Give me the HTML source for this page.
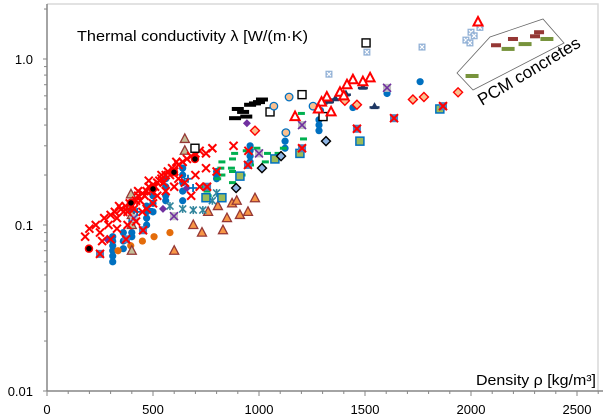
<!DOCTYPE html>
<html><head><meta charset="utf-8"><style>
html,body{margin:0;padding:0;background:#fff}
svg{display:block}
text{font-family:"Liberation Sans",sans-serif}
</style></head><body>
<svg id="chart" width="607" height="420" viewBox="0 0 607 420">
<rect x="0" y="0" width="607" height="420" fill="#fff"/>
<g id="grid"></g>
<g id="marks"></g>
<text x="77" y="41" font-size="14.5" textLength="231" lengthAdjust="spacingAndGlyphs" fill="#000">Thermal conductivity λ [W/(m·K)</text>
<text x="476" y="385" font-size="14.5" textLength="120" lengthAdjust="spacingAndGlyphs" fill="#000">Density ρ [kg/m³]</text>
<polygon points="457,73 490,37 543,19 564,43 473,90" fill="none" stroke="#666" stroke-width="0.8"/>
<text x="0" y="0" font-size="17" transform="translate(482,106) rotate(-31)" fill="#000">PCM concretes</text>
</svg>
<script>
const xTicks=[0,500,1000,1500,2000,2500];
const yTicks=[0.01,0.1,1.0];
const yTickLabels=["0.01","0.1","1.0"];
const redCross=[[180,0.085],[200,0.095],[230,0.1],[250,0.09],[270,0.11],[290,0.1],[300,0.115],[320,0.12],[330,0.11],[350,0.125],[360,0.12],[370,0.13],[380,0.12],[390,0.135],[400,0.13],[410,0.125],[420,0.14],[430,0.15],[440,0.14],[450,0.155],[460,0.15],[470,0.16],[480,0.17],[490,0.16],[500,0.175],[510,0.17],[520,0.18],[530,0.185],[540,0.19],[550,0.18],[560,0.2],[570,0.21],[580,0.2],[590,0.22],[600,0.21],[620,0.23],[640,0.24],[660,0.25],[680,0.26],[700,0.27],[720,0.28],[750,0.27],[780,0.29],[330,0.095],[420,0.105],[450,0.12],[520,0.15],[560,0.16],[600,0.17],[650,0.18],[700,0.2],[750,0.22],[800,0.21],[260,0.08],[300,0.082],[720,0.17],[680,0.15],[500,0.135],[470,0.125],[620,0.19],[880,0.3],[950,0.28],[340,0.13],[430,0.16],[480,0.185],[540,0.2],[610,0.24],[380,0.1]];
const blueCircle=[[310,0.06],[310,0.065],[310,0.07],[310,0.075],[310,0.08],[310,0.085],[360,0.072],[360,0.08],[360,0.09],[400,0.085],[400,0.09],[400,0.1],[400,0.105],[400,0.11],[400,0.12],[470,0.1],[470,0.11],[470,0.12],[470,0.13],[500,0.12],[500,0.135],[500,0.15],[560,0.14],[560,0.15],[560,0.17],[560,0.19],[640,0.14],[640,0.16],[640,0.18],[640,0.2],[640,0.22],[800,0.19],[800,0.2],[800,0.21],[958,0.24],[958,0.26],[958,0.28],[958,0.3],[1123,0.29],[1123,0.32],[1123,0.36],[1283,0.37],[1283,0.4],[1283,0.43],[1443,0.51],[1604,0.62],[1760,0.73],[1290,0.49]];
const orangeCircle=[[335,0.07],[395,0.075],[450,0.08],[505,0.085],[580,0.09]];
const triangle=[[731,0.09],[830,0.093],[849,0.11],[910,0.115],[948,0.12],[873,0.135],[895,0.14],[981,0.145],[806,0.13],[600,0.07],[690,0.1],[760,0.12]];
const tanTriangle=[[396,0.153],[400,0.07],[400,0.1],[400,0.115],[395,0.13],[650,0.33],[650,0.28]];
const redTriangle=[[2033,1.67],[1524,0.77],[1443,0.75],[1490,0.73],[1415,0.7],[1382,0.63],[1320,0.59],[1295,0.55],[1280,0.5],[1340,0.48],[1400,0.6],[1170,0.45]];
const blackDash=[[887,0.44],[958,0.53],[1014,0.57],[925,0.48],[900,0.5],[981,0.54],[940,0.45],[1000,0.55]];
const greenDash=[[825,0.24],[820,0.22],[825,0.2],[805,0.19],[875,0.25],[870,0.22],[875,0.21],[920,0.2],[875,0.18],[885,0.27],[940,0.28],[990,0.29],[1000,0.28],[1040,0.27],[1090,0.27],[1115,0.29],[1210,0.33],[960,0.23],[1030,0.24],[755,0.16],[760,0.15],[745,0.17],[1200,0.47]];
const blackDot=[[198,0.072],[396,0.136],[500,0.165],[599,0.208],[698,0.25]];
const greenSquare=[[750,0.146],[825,0.146],[910,0.197],[1075,0.25],[1193,0.27],[1476,0.32],[1853,0.5]];
const tealStar=[[690,0.123],[735,0.123],[800,0.156],[780,0.14],[580,0.13],[640,0.125]];
const diamondBlue=[[892,0.167],[1014,0.22],[1104,0.26],[1316,0.32]];
const whiteSquare=[[698,0.29],[1052,0.48],[1203,0.61],[1302,0.45],[1505,1.25]];
const paleCross=[[1509,1.1],[1769,1.18],[1330,0.81],[1976,1.3],[2000,1.45],[2015,1.38],[2042,1.55],[1995,1.25]];
const peachCircle=[[1070,0.52],[1142,0.59],[1127,0.36],[1255,0.52]];
const purpleCross=[[1203,0.4],[1000,0.27],[1604,0.67],[599,0.113],[410,0.11]];
const redXSquare=[[948,0.23],[1203,0.29],[1462,0.38],[1637,0.44],[755,0.17],[1868,0.52],[373,0.082],[453,0.093],[250,0.067]];
const peachDiamond=[[1939,0.63],[1778,0.59],[1726,0.57],[1405,0.56],[981,0.37],[1462,0.53]];
const navyStar=[[1330,0.56],[1360,0.58],[1410,0.62],[1490,0.68],[1300,0.55],[1545,0.52]];
const purpleDiamond=[[283,0.082],[547,0.125],[660,0.167],[943,0.41]];
const bluePlus=[[689,0.167],[425,0.12],[665,0.19],[480,0.125]];
const pcmGreen=[[2005,0.79],[2175,1.15],[2255,1.23],[2358,1.32]];
const pcmRed=[[2118,1.21],[2198,1.32],[2302,1.37],[2321,1.45]];

const NS="http://www.w3.org/2000/svg";
const X0=47,XS=0.212,Y0=225,DEC=166;
function xs(d){return X0+XS*d;}
function ys(l){return Y0-DEC*Math.log10(l/0.1);}
const grid=document.getElementById('grid'),marks=document.getElementById('marks');
function el(tag,attrs,parent){const e=document.createElementNS(NS,tag);for(const k in attrs)e.setAttribute(k,attrs[k]);(parent||marks).appendChild(e);return e;}

let f=el('path',{d:'M47,4 H598 V391',fill:'none',stroke:'#d9d9d9','stroke-width':1.5},grid);


let ax=el('line',{x1:47,y1:4,x2:47,y2:391,stroke:'#868686','stroke-width':1.5},grid);


let bx=el('line',{x1:47,y1:391,x2:603,y2:391,stroke:'#868686','stroke-width':1.5},grid);


for(let d=0;d<=2600;d+=100){
  const t=el('line',{x1:xs(d),x2:xs(d),y1:391,y2:d%500===0?396:394,stroke:'#868686','stroke-width':1},grid);
  
  
}
xTicks.forEach(v=>{
  const t=el('text',{x:xs(v),y:414,'font-size':13,'text-anchor':'middle'},grid);t.textContent=v;
  
  
});
[0.01,0.1,1].forEach(b=>{for(let m=1;m<10;m++){const v=b*m;const y=ys(v);if(y<4)continue;
  const t=el('line',{x1:m===1?43:44,x2:47,y1:y,y2:y,stroke:'#868686','stroke-width':1},grid);
  
  }});
yTicks.forEach((v,i)=>{
  const t=el('text',{x:33,y:ys(v)+5,'font-size':13,'text-anchor':'end'},grid);t.textContent=yTickLabels[i];
  
  
});

function cross(g,x,y,r,c,w){el('path',{d:`M${x-r},${y-r}L${x+r},${y+r}M${x-r},${y+r}L${x+r},${y-r}`,stroke:c,'stroke-width':w,fill:'none'},g);}
const drawers={
 redCross:(g,x,y)=>cross(g,x,y,4,'#FF0000',2),
 blueCircle:(g,x,y)=>el('circle',{cx:x,cy:y,r:3.6,fill:'#0070C0'},g),
 orangeCircle:(g,x,y)=>el('circle',{cx:x,cy:y,r:3.6,fill:'#E46C0A'},g),
 triangle:(g,x,y)=>el('path',{d:`M${x},${y-5}L${x+4.5},${y+3.5}L${x-4.5},${y+3.5}Z`,fill:'#F79646',stroke:'#953735','stroke-width':1.3},g),
 tanTriangle:(g,x,y)=>el('path',{d:`M${x},${y-5}L${x+4.5},${y+3.5}L${x-4.5},${y+3.5}Z`,fill:'#C4BD97',stroke:'#953735','stroke-width':1.3},g),
 redTriangle:(g,x,y)=>el('path',{d:`M${x},${y-5}L${x+4.5},${y+3.5}L${x-4.5},${y+3.5}Z`,fill:'#fff',stroke:'#FF0000','stroke-width':2},g),
 blackDash:(g,x,y)=>el('rect',{x:x-6,y:y-2,width:12,height:4,fill:'#000'},g),
 greenDash:(g,x,y)=>el('rect',{x:x-3.5,y:y-1.5,width:7,height:3,fill:'#00B050'},g),
 blackDot:(g,x,y)=>el('circle',{cx:x,cy:y,r:3.5,fill:'#000',stroke:'#FF0000','stroke-width':1.5},g),
 greenSquare:(g,x,y)=>el('rect',{x:x-4,y:y-4,width:8,height:8,fill:'#9BBB59',stroke:'#0070C0','stroke-width':1.5},g),
 tealStar:(g,x,y)=>{cross(g,x,y,3.5,'#31859C',1.6);el('line',{x1:x,y1:y-4,x2:x,y2:y+4,stroke:'#31859C','stroke-width':1.6},g);},
 diamondBlue:(g,x,y)=>el('path',{d:`M${x},${y-4.5}L${x+4.5},${y}L${x},${y+4.5}L${x-4.5},${y}Z`,fill:'#8EB4E3',stroke:'#000','stroke-width':1.4},g),
 whiteSquare:(g,x,y)=>el('rect',{x:x-4,y:y-4,width:8,height:8,fill:'#fff',stroke:'#000','stroke-width':1.4},g),
 paleCross:(g,x,y)=>{el('rect',{x:x-3.5,y:y-3.5,width:7,height:7,fill:'#95B3D7'},g);cross(g,x,y,2,'#fff',1.2);},
 peachCircle:(g,x,y)=>el('circle',{cx:x,cy:y,r:3.8,fill:'#FAC090',stroke:'#0070C0','stroke-width':1.3},g),
 purpleCross:(g,x,y)=>{el('rect',{x:x-4,y:y-4,width:8,height:8,fill:'#BFBFBF'},g);cross(g,x,y,4,'#7030A0',1.6);},
 redXSquare:(g,x,y)=>{el('rect',{x:x-4,y:y-4,width:8,height:8,fill:'#4F81BD'},g);cross(g,x,y,4,'#FF0000',2);},
 peachDiamond:(g,x,y)=>el('path',{d:`M${x},${y-4.5}L${x+4.5},${y}L${x},${y+4.5}L${x-4.5},${y}Z`,fill:'#FAC090',stroke:'#FF0000','stroke-width':1.4},g),
 navyStar:(g,x,y)=>{el('path',{d:`M${x-4},${y+3}L${x},${y-4}L${x+4},${y+3}Z`,fill:'#1F3864'},g);el('rect',{x:x-5,y:y,width:10,height:2.5,fill:'#1F3864'},g);},
 purpleDiamond:(g,x,y)=>el('path',{d:`M${x},${y-4}L${x+4},${y}L${x},${y+4}L${x-4},${y}Z`,fill:'#7030A0'},g),
 bluePlus:(g,x,y)=>el('path',{d:`M${x-4},${y}H${x+4}M${x},${y-4}V${y+4}`,stroke:'#0070C0','stroke-width':1.8},g),
 pcmGreen:(g,x,y)=>el('rect',{x:x-6.5,y:y-2,width:13,height:4,fill:'#77933C'},g),
 pcmRed:(g,x,y)=>el('rect',{x:x-5,y:y-2,width:10,height:4,fill:'#953735'},g)
};
const seriesList=[['blue-circle-series',blueCircle,'blueCircle'],['orange-circle-series',orangeCircle,'orangeCircle'],['triangle-series',triangle,'triangle'],['tan-triangle-series',tanTriangle,'tanTriangle'],['green-dash-series',greenDash,'greenDash'],['black-dash-series',blackDash,'blackDash'],['teal-star-series',tealStar,'tealStar'],['green-square-series',greenSquare,'greenSquare'],['diamond-series',diamondBlue,'diamondBlue'],['purple-cross-series',purpleCross,'purpleCross'],['red-x-square-series',redXSquare,'redXSquare'],['purple-diamond-series',purpleDiamond,'purpleDiamond'],['blue-plus-series',bluePlus,'bluePlus'],['red-cross-series',redCross,'redCross'],['black-dot-series',blackDot,'blackDot'],['white-square-series',whiteSquare,'whiteSquare'],['pale-cross-series',paleCross,'paleCross'],['peach-circle-series',peachCircle,'peachCircle'],['navy-star-series',navyStar,'navyStar'],['peach-diamond-series',peachDiamond,'peachDiamond'],['red-triangle-series',redTriangle,'redTriangle'],['pcm-green-series',pcmGreen,'pcmGreen'],['pcm-red-series',pcmRed,'pcmRed']];
seriesList.forEach(([name,data,kind])=>{
  const sg=el('g',{},marks);
  
  
  data.forEach(p=>{
    const g=el('g',{},sg);
    
    
    drawers[kind](g,xs(p[0]),ys(p[1]));
  });
});
</script>
</body></html>
